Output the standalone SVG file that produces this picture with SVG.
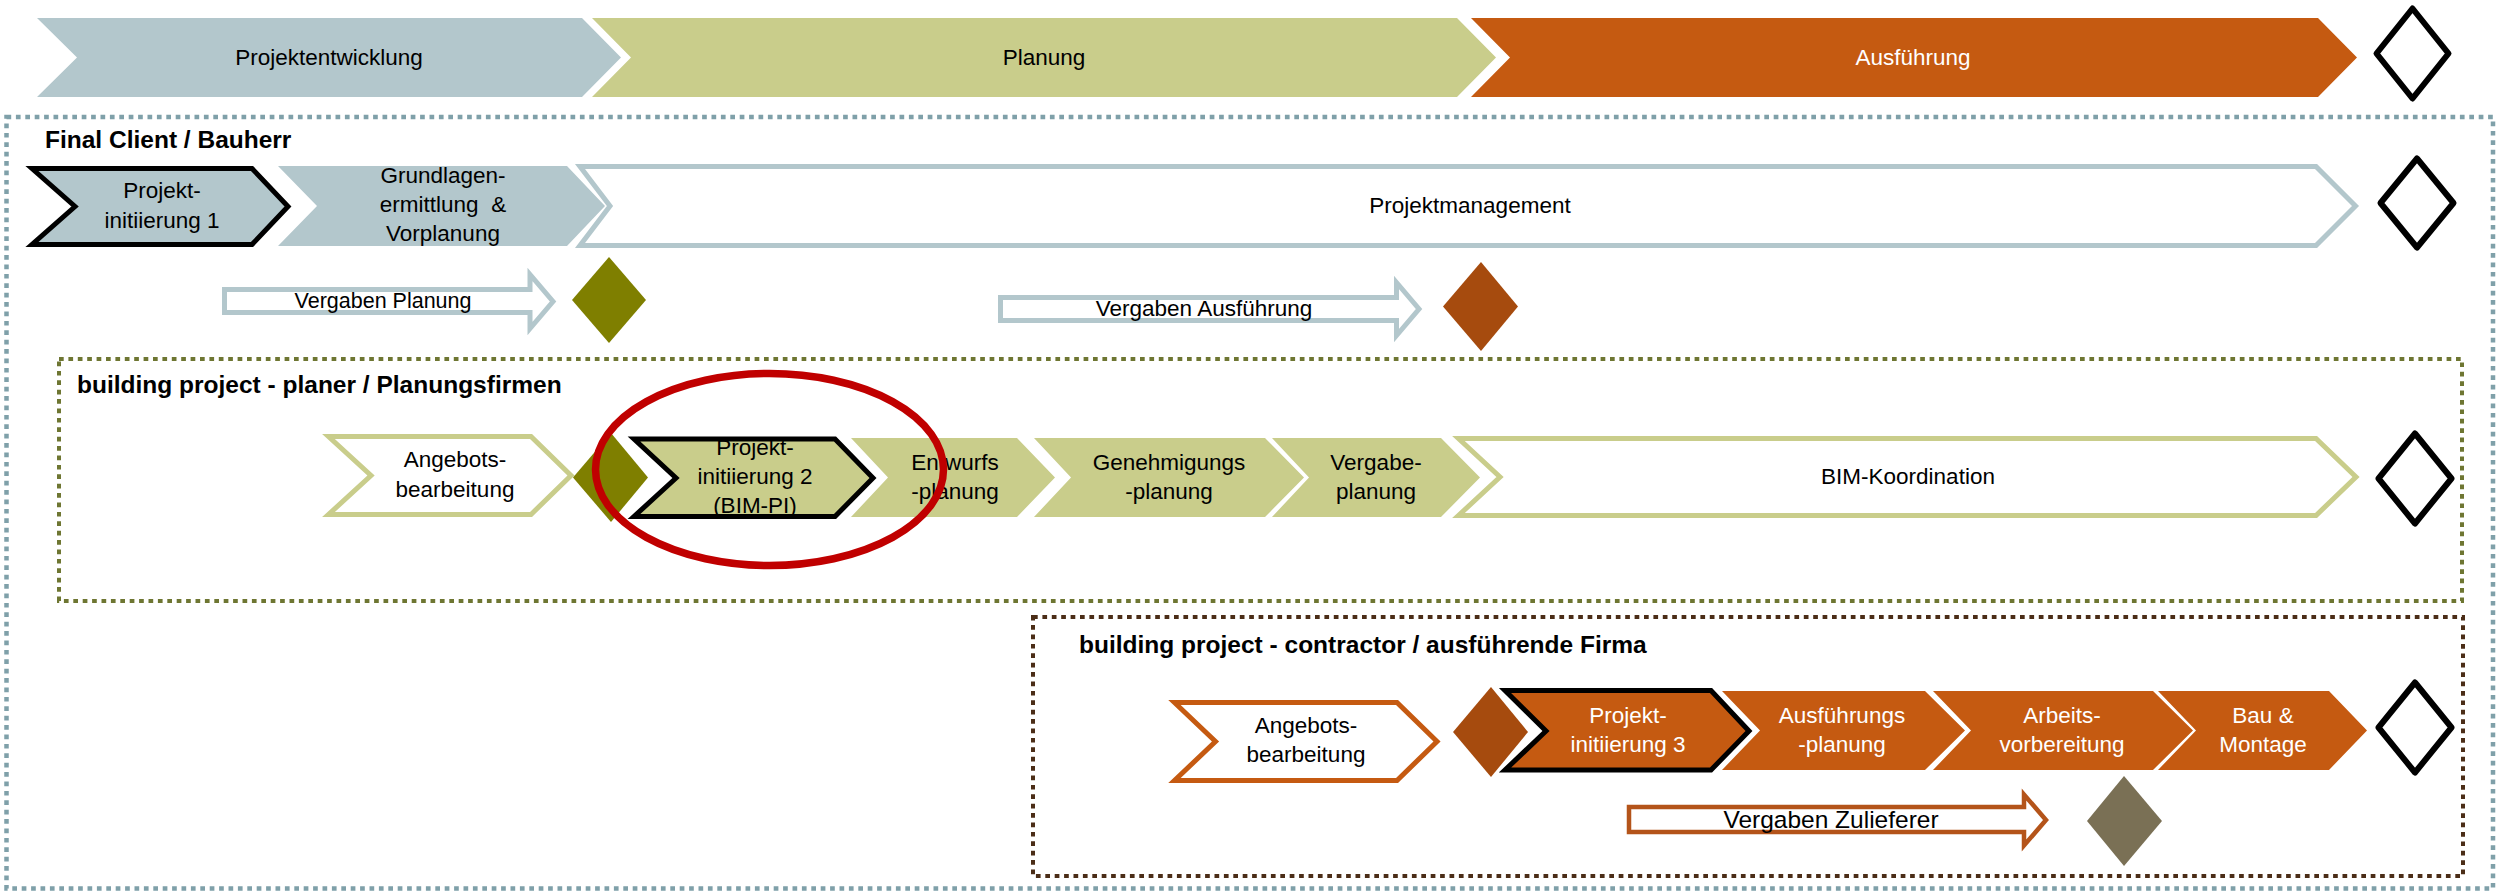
<svg xmlns="http://www.w3.org/2000/svg" width="2496" height="891" viewBox="0 0 2496 891">
<style>
text{font-family:"Liberation Sans",Arial,sans-serif;font-size:22.5px;fill:#000;text-anchor:middle}
text.w{fill:#fff}
text.h{font-weight:bold;font-size:24.5px;text-anchor:start}
.blue{fill:#B3C7CC}
.green{fill:#C9CD8B}
.orange{fill:#C55A11}
.bo{stroke:#000;stroke-width:5}
.ms{fill:#fff;stroke:#000;stroke-width:6;stroke-linejoin:round}
.box{fill:none;stroke-width:4.5;stroke-dasharray:4.7 4.7}
.ob{fill:#fff;stroke:#B3C7CC;stroke-width:5}
.og{fill:#fff;stroke:#C9CD8B;stroke-width:5}
.oo{fill:#fff;stroke:#C55A11;stroke-width:5}
</style>
<rect width="2496" height="891" fill="#fff"/>

<g id="phase-projektentwicklung">
<polygon class="blue" points="37,18 582,18 621,57.5 582,97 37,97 77,57.5"/>
<text x="329" y="65">Projektentwicklung</text>
</g>
<g id="phase-planung">
<polygon class="green" points="592,18 1457,18 1496,57.5 1457,97 592,97 631,57.5"/>
<text x="1044" y="65">Planung</text>
</g>
<g id="phase-ausfuehrung">
<polygon class="orange" points="1471,18 2318,18 2357,57.5 2318,97 1471,97 1510,57.5"/>
<text class="w" x="1913" y="65">Ausführung</text>
</g>
<g id="milestone-top">
<polygon class="ms" points="2412.5,8.5 2448.5,53.5 2412.5,98.5 2376.5,53.5"/>
</g>

<g id="lane-client">
<rect class="box" x="6.5" y="117" width="2486.5" height="771.5" stroke="#7FA0A9"/>
<text class="h" x="45" y="148">Final Client / Bauherr</text>
</g>
<g id="client-pi1">
<polygon class="blue bo" points="32,168.5 252,168.5 288,206.5 252,244.5 32,244.5 75,206.5"/>
<text x="162" y="198">Projekt-</text>
<text x="162" y="228">initiierung 1</text>
</g>
<g id="client-grundlagen">
<polygon class="blue" points="278,166 567,166 605,206 567,246 278,246 317,206"/>
<text x="443" y="183">Grundlagen-</text>
<text x="443" y="212" xml:space="preserve">ermittlung  &amp;</text>
<text x="443" y="241">Vorplanung</text>
</g>
<g id="client-projektmanagement">
<polygon class="ob" points="580,166.5 2316,166.5 2355.5,206 2316,245.5 580,245.5 610,206"/>
<text x="1470" y="213">Projektmanagement</text>
</g>
<g id="milestone-client">
<polygon class="ms" points="2417,158.5 2453.5,203 2417,247.5 2380.5,203"/>
</g>
<g id="client-vergaben-planung">
<polygon class="ob" points="224.5,289.5 530,289.5 530,274.5 553,301.5 530,328.5 530,312.5 224.5,312.5"/>
<text x="383" y="308" style="font-size:21.5px">Vergaben Planung</text>
</g>
<g id="diamond-planung">
<polygon fill="#7F7F00" points="609,257 646,300 609,343 572,300"/>
</g>
<g id="client-vergaben-ausfuehrung">
<polygon class="ob" points="1000.5,297.5 1396.5,297.5 1396.5,282.5 1419,309 1396.5,335.5 1396.5,320.5 1000.5,320.5"/>
<text x="1204" y="316">Vergaben Ausführung</text>
</g>
<g id="diamond-ausfuehrung">
<polygon fill="#A64B0E" points="1481,262 1518,306.5 1481,351 1443,306.5"/>
</g>

<g id="lane-planer">
<rect class="box" x="59" y="359" width="2403" height="242" stroke="#6E7632" style="stroke-width:4"/>
<text class="h" x="77" y="393">building project - planer / Planungsfirmen</text>
</g>
<g id="planer-angebot">
<polygon class="og" points="328.5,436.5 531,436.5 571,475.5 531,514.5 328.5,514.5 371,475.5"/>
<text x="455" y="467">Angebots-</text>
<text x="455" y="497">bearbeitung</text>
</g>
<g id="planer-diamond">
<polygon fill="#7F7F00" points="611,433 648,477.5 611,522 573,477.5"/>
</g>
<g id="planer-pi2">
<polygon class="green bo" points="634,439 835,439 873,478 835,516.5 634,516.5 676,478"/>
<text x="755" y="455">Projekt-</text>
<text x="755" y="484">initiierung 2</text>
<text x="755" y="513">(BIM-PI)</text>
</g>
<g id="planer-entwurf">
<polygon class="green" points="851,438 1017,438 1055,477.5 1017,517 851,517 888,477.5"/>
<text x="955" y="470">Entwurfs</text>
<text x="955" y="499">-planung</text>
</g>
<g id="planer-genehmigung">
<polygon class="green" points="1034,438 1265,438 1304,477.5 1265,517 1034,517 1071,477.5"/>
<text x="1169" y="470">Genehmigungs</text>
<text x="1169" y="499">-planung</text>
</g>
<g id="planer-vergabe">
<polygon class="green" points="1272,438 1441,438 1480,477.5 1441,517 1272,517 1309,477.5"/>
<text x="1376" y="470">Vergabe-</text>
<text x="1376" y="499">planung</text>
</g>
<g id="planer-bim">
<polygon class="og" points="1458.5,438.5 2316,438.5 2356,477 2316,515.5 1458.5,515.5 1500,477"/>
<text x="1908" y="484">BIM-Koordination</text>
</g>
<g id="milestone-planer">
<polygon class="ms" points="2415,433.5 2451.5,478.5 2415,523.5 2378.5,478.5"/>
</g>

<g id="lane-contractor">
<rect class="box" x="1033" y="617" width="1430" height="259" stroke="#4B2D17" style="stroke-width:4"/>
<text class="h" x="1079" y="653">building project - contractor / ausführende Firma</text>
</g>
<g id="contractor-angebot">
<polygon class="oo" points="1174.5,702.5 1397,702.5 1437,741.5 1397,780.5 1174.5,780.5 1215.5,741.5"/>
<text x="1306" y="733">Angebots-</text>
<text x="1306" y="762">bearbeitung</text>
</g>
<g id="contractor-diamond">
<polygon fill="#A64B0E" points="1491,687 1528,732 1491,777 1453,732"/>
</g>
<g id="contractor-pi3">
<polygon class="orange bo" points="1505,690.5 1711,690.5 1749,731 1711,770 1505,770 1546,731"/>
<text class="w" x="1628" y="723">Projekt-</text>
<text class="w" x="1628" y="752">initiierung 3</text>
</g>
<g id="contractor-ausfuehrungsplanung">
<polygon class="orange" points="1722,691 1925,691 1965,730.5 1925,770 1722,770 1760,730.5"/>
<text class="w" x="1842" y="722.5">Ausführungs</text>
<text class="w" x="1842" y="751.5">-planung</text>
</g>
<g id="contractor-arbeitsvorbereitung">
<polygon class="orange" points="1933,691 2153,691 2193,730.5 2153,770 1933,770 1971,730.5"/>
<text class="w" x="2062" y="722.5">Arbeits-</text>
<text class="w" x="2062" y="751.5">vorbereitung</text>
</g>
<g id="contractor-bau">
<polygon class="orange" points="2158,691 2329,691 2367,730.5 2329,770 2158,770 2196,730.5"/>
<text class="w" x="2263" y="722.5">Bau &amp;</text>
<text class="w" x="2263" y="751.5">Montage</text>
</g>
<g id="milestone-contractor">
<polygon class="ms" points="2415,682.5 2451.5,727.5 2415,772.5 2378.5,727.5"/>
</g>
<g id="contractor-vergaben-zulieferer">
<polygon fill="#fff" stroke="#B4541A" stroke-width="4.5" points="1629,807 2024,807 2024,794.5 2046,820 2024,845.5 2024,832 1629,832"/>
<text x="1831" y="828" style="font-size:24.5px">Vergaben Zulieferer</text>
</g>
<g id="diamond-zulieferer">
<polygon fill="#7A7055" points="2124,776 2162,821 2124,866 2087,821"/>
</g>

<g id="highlight">
<ellipse cx="769.5" cy="469.5" rx="174" ry="96" fill="none" stroke="#C00000" stroke-width="7.5"/>
</g>
<g id="connectors"/>
</svg>
